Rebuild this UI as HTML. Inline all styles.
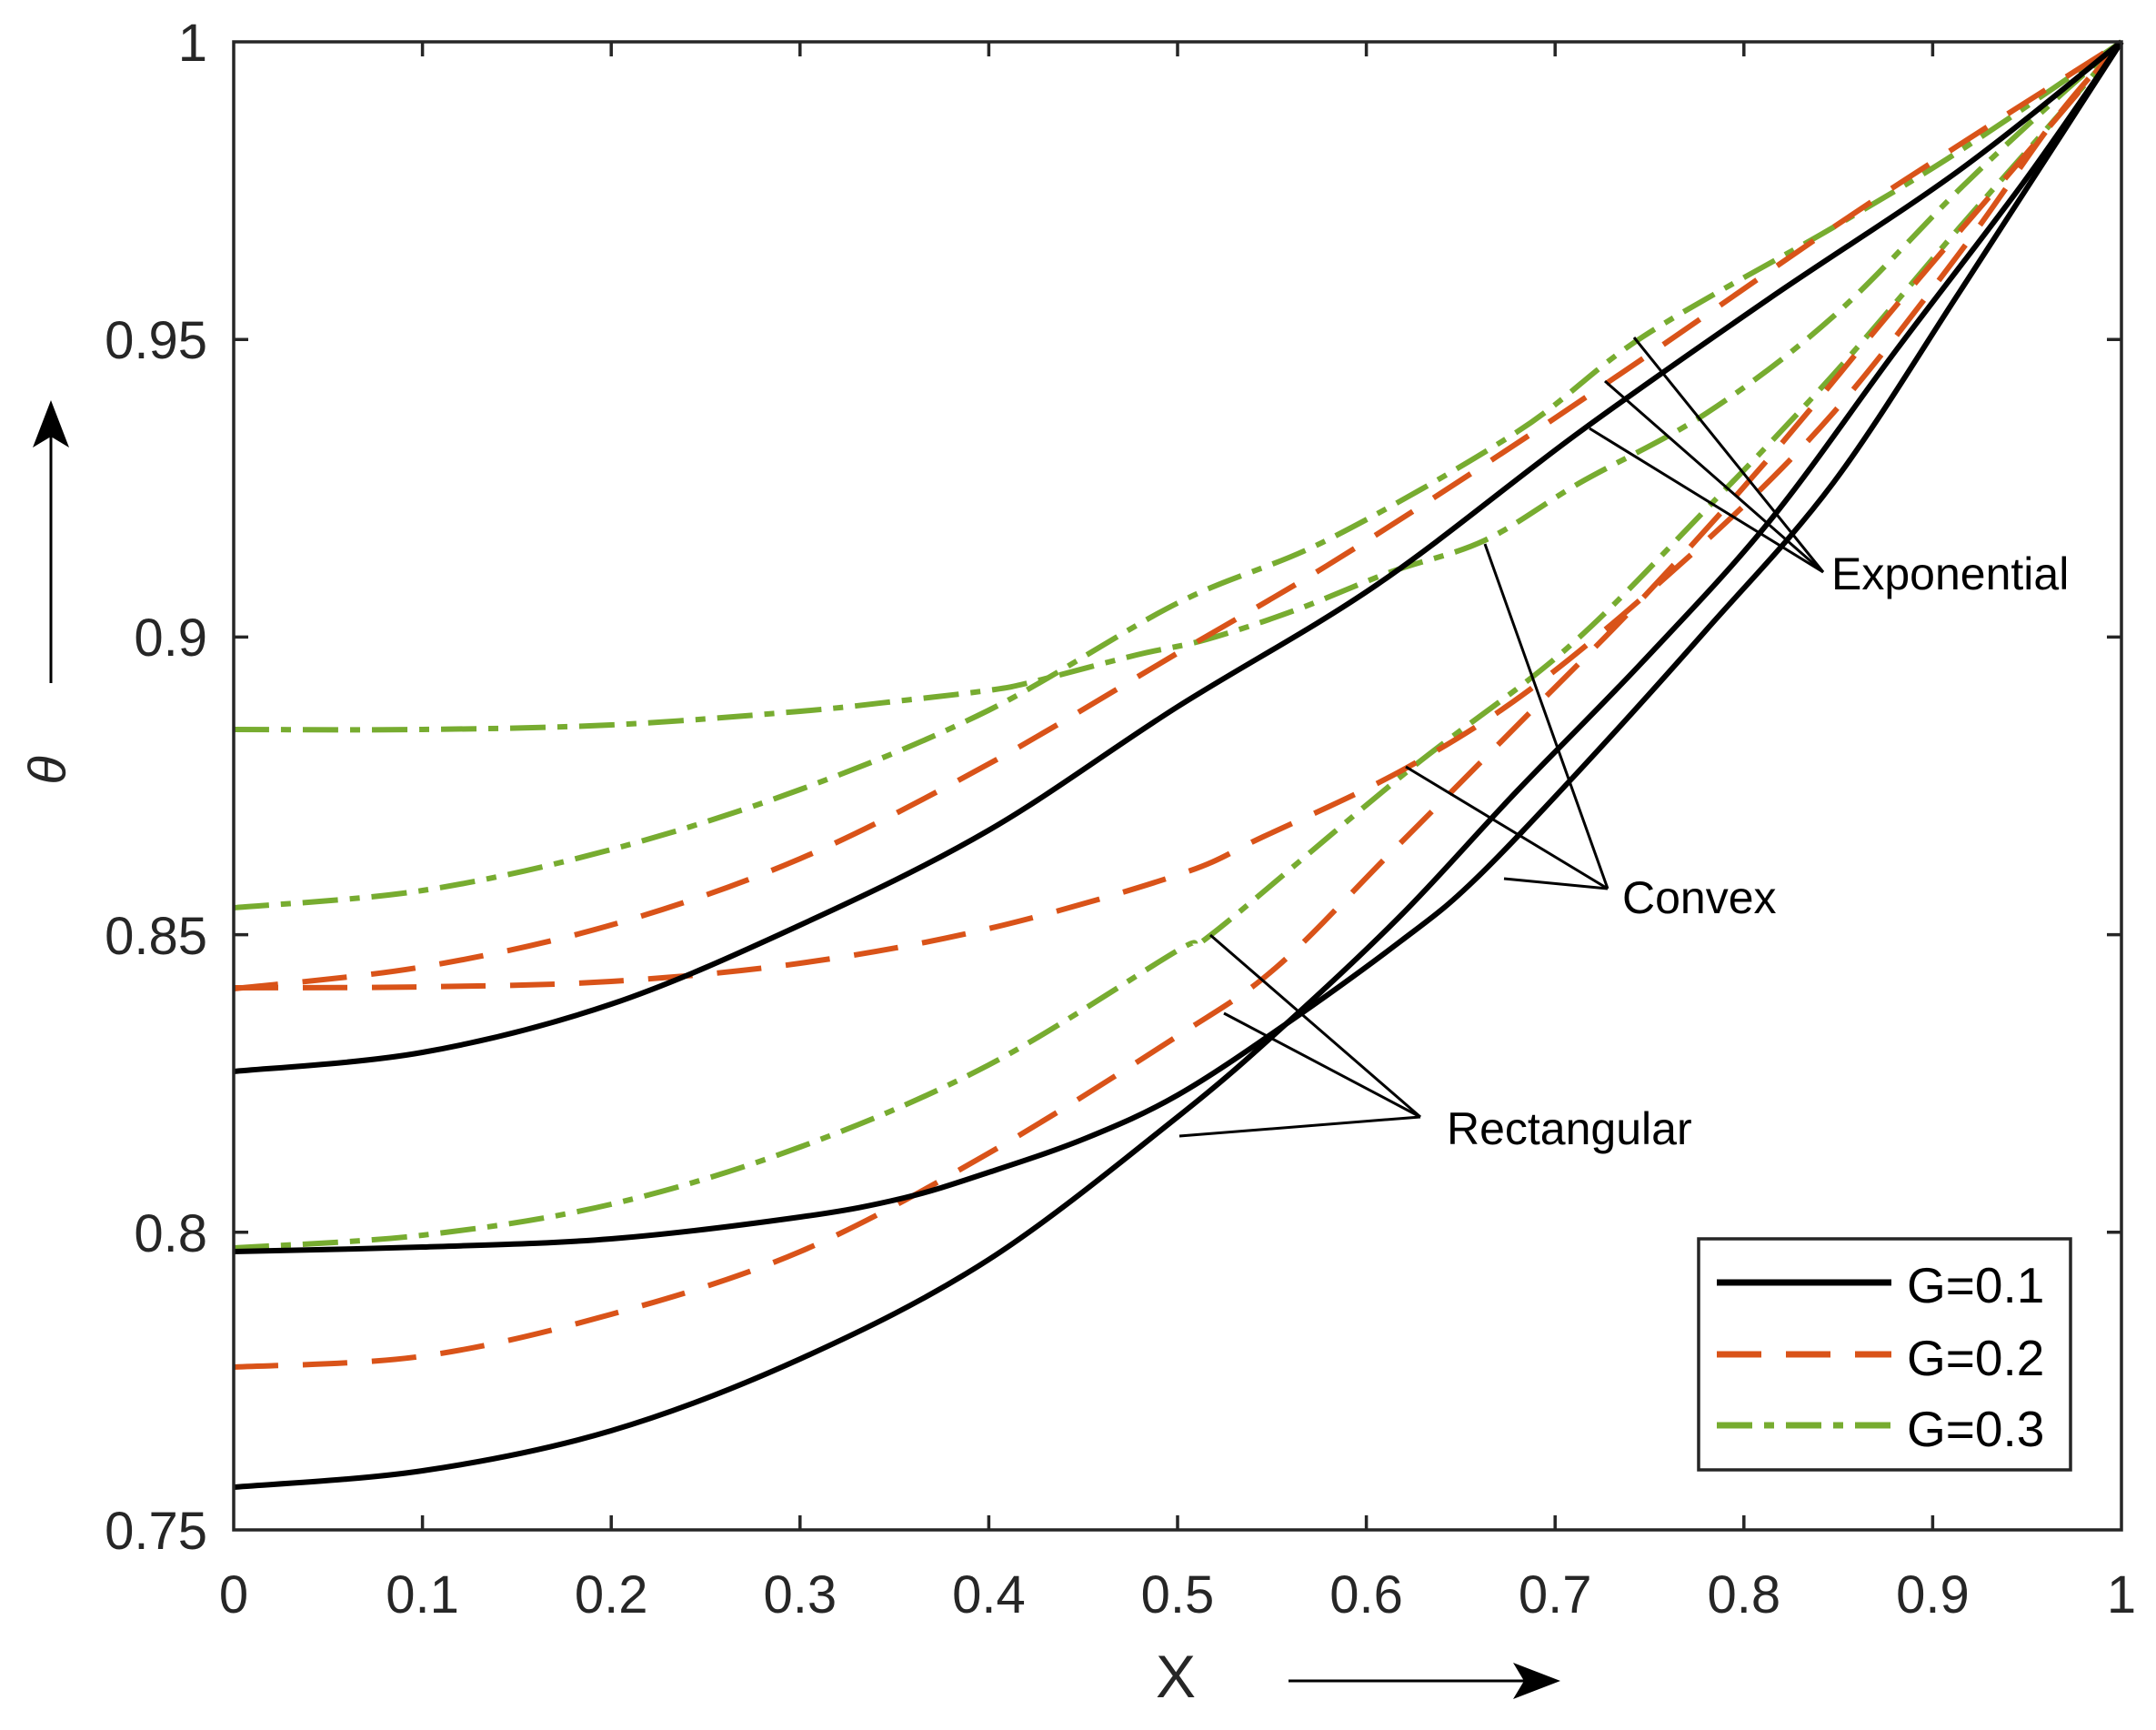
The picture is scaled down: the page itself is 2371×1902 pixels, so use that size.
<!DOCTYPE html>
<html><head><meta charset="utf-8"><style>
html,body{margin:0;padding:0;background:#fff;}
svg{display:block;}
text{font-family:"Liberation Sans",Arial,sans-serif;}
</style></head><body>
<svg id="chart" width="2371" height="1902" viewBox="0 0 2371 1902" xmlns="http://www.w3.org/2000/svg">
<rect width="2371" height="1902" fill="#fff"/>
<g fill="none" stroke-width="6" stroke-linejoin="round" stroke-linecap="butt">
<g stroke="#77AC30" stroke-dasharray="39,13,11,13">
<polyline class="c" points="257,998 464.6,979 672,934 880,868 1087,781 1295,663 1459,594 1668,475 1807,370 2016,250 2155,166 2333,46"/>
<polyline class="c" points="257,802 464.6,802 672,797 880,782 994,770 1087,759 1134,750 1250,720 1327,703 1424,671 1529,629 1633,594 1737,531 1877,454 2016,348 2155,208 2260,110 2333,46"/>
<polyline class="c" points="257,1372 464.6,1358 672,1324 880,1261 1087,1171 1295,1045 1334,1026 1549,847 1723,713 1877,559 2016,412 2155,250 2260,131 2333,46"/>
</g>
<g stroke="#D95319" stroke-dasharray="49,27">
<polyline class="c" points="257,1087 464.6,1063 672,1017 880,944 1087,840 1295,718 1459,622 1640,506 1807,394 2016,250 2155,159 2333,46"/>
<polyline class="c" points="257,1086 464.6,1085 672,1079 880,1059 1087,1021 1295,962 1389,920 1549,843 1696,748 1877,594 2016,454 2155,278 2260,131 2333,46"/>
<polyline class="c" points="257,1503 464.6,1491 672,1445 880,1376 1087,1268 1295,1139 1403,1064 1529,938 1668,798 1807,657 1946,503 2086,335 2225,173 2333,46"/>
</g>
<g stroke="#000">
<polyline class="c" points="257,1178 464.6,1157 672,1104 880,1017 1087,913 1295,777 1514,643 1737,475 1946,328 2155,187 2333,46"/>
<polyline class="c" points="257,1376 464.6,1371 672,1362 880,1338 994,1317 1087,1289 1195,1251 1295,1204 1414,1126 1540,1035 1619,970 1737,847 1877,692 2016,531 2155,321 2260,159 2333,46"/>
<polyline class="c" points="257,1635 464.6,1617 672,1573 880,1494 1087,1385 1295,1228 1414,1126 1542,1005 1668,870 1807,727 1946,573 2086,384 2225,201 2333,46"/>
</g>
</g>
<g stroke="#000" stroke-width="3" fill="none">
<line x1="1797" y1="371" x2="2005" y2="629"/>
<line x1="1765" y1="419" x2="2005" y2="629"/>
<line x1="1748" y1="471" x2="2005" y2="629"/>
<line x1="1633" y1="598" x2="1768" y2="977"/>
<line x1="1546" y1="843" x2="1768" y2="977"/>
<line x1="1654" y1="966" x2="1768" y2="977"/>
<line x1="1331" y1="1028" x2="1562" y2="1228"/>
<line x1="1346" y1="1114" x2="1562" y2="1228"/>
<line x1="1297" y1="1249" x2="1562" y2="1228"/>
</g>
<g font-size="50" fill="#000">
<text x="2014" y="648">Exponential</text>
<text x="1784" y="1004">Convex</text>
<text x="1591" y="1258">Rectangular</text>
</g>
<g stroke="#262626" stroke-width="3.5" fill="none">
<rect x="257" y="46" width="2076" height="1636"/>
<path d="M464.6,1682v-16M672.2,1682v-16M879.8,1682v-16M1087.4,1682v-16M1295,1682v-16M1502.6,1682v-16M1710.2,1682v-16M1917.8,1682v-16M2125.4,1682v-16
M464.6,46v16M672.2,46v16M879.8,46v16M1087.4,46v16M1295,46v16M1502.6,46v16M1710.2,46v16M1917.8,46v16M2125.4,46v16
M257,1354.8h16M257,1027.6h16M257,700.4h16M257,373.2h16
M2333,1354.8h-16M2333,1027.6h-16M2333,700.4h-16M2333,373.2h-16"/>
</g>
<g font-size="58" fill="#262626" text-anchor="middle">
<text x="257" y="1773">0</text>
<text x="464.6" y="1773">0.1</text>
<text x="672.2" y="1773">0.2</text>
<text x="879.8" y="1773">0.3</text>
<text x="1087.4" y="1773">0.4</text>
<text x="1295" y="1773">0.5</text>
<text x="1502.6" y="1773">0.6</text>
<text x="1710.2" y="1773">0.7</text>
<text x="1917.8" y="1773">0.8</text>
<text x="2125.4" y="1773">0.9</text>
<text x="2333" y="1773">1</text>
</g>
<g font-size="58" fill="#262626" text-anchor="end">
<text x="228" y="1703">0.75</text>
<text x="228" y="1376">0.8</text>
<text x="228" y="1049">0.85</text>
<text x="228" y="721">0.9</text>
<text x="228" y="394">0.95</text>
<text x="228" y="67">1</text>
</g>
<text x="1293" y="1866" font-size="66" fill="#262626" text-anchor="middle">X</text>
<line x1="1417" y1="1848" x2="1680" y2="1848" stroke="#000" stroke-width="3"/>
<polygon points="1716,1848 1664,1828 1676,1848 1664,1868" fill="#000"/>
<text transform="translate(72,847) rotate(-90)" font-size="58" font-style="italic" fill="#262626" text-anchor="middle" font-family="Liberation Serif, serif">θ</text>
<line x1="56" y1="751" x2="56" y2="475" stroke="#000" stroke-width="3"/>
<polygon points="56,440 36,492 56,480 76,492" fill="#000"/>
<rect x="1868" y="1362" width="409" height="254" fill="#fff" stroke="#262626" stroke-width="3.5"/>
<line x1="1888" y1="1410" x2="2080" y2="1410" stroke="#000" stroke-width="7"/>
<line x1="1888" y1="1489" x2="2080" y2="1489" stroke="#D95319" stroke-width="7" stroke-dasharray="49,27"/>
<line x1="1888" y1="1567" x2="2080" y2="1567" stroke="#77AC30" stroke-width="7" stroke-dasharray="39,13,11,13"/>
<g font-size="55" fill="#000">
<text x="2097" y="1432">G=0.1</text>
<text x="2097" y="1512">G=0.2</text>
<text x="2097" y="1590">G=0.3</text>
</g>
</svg>
<script>
(function(){
var NS="http://www.w3.org/2000/svg";
var pls=document.querySelectorAll("polyline.c");
for(var i=0;i<pls.length;i++){
  var pl=pls[i];
  var nums=pl.getAttribute("points").trim().split(/[\s,]+/).map(Number);
  var p=[];for(var k=0;k<nums.length;k+=2)p.push([nums[k],nums[k+1]]);
  var d="M"+p[0][0]+","+p[0][1];
  for(var k=0;k<p.length-1;k++){
    var p0=p[k>0?k-1:0],p1=p[k],p2=p[k+1],p3=p[k+2<p.length?k+2:p.length-1];
    var c1x=p1[0]+(p2[0]-p0[0])/6,c1y=p1[1]+(p2[1]-p0[1])/6;
    var c2x=p2[0]-(p3[0]-p1[0])/6,c2y=p2[1]-(p3[1]-p1[1])/6;
    d+="C"+c1x.toFixed(1)+","+c1y.toFixed(1)+" "+c2x.toFixed(1)+","+c2y.toFixed(1)+" "+p2[0]+","+p2[1];
  }
  var path=document.createElementNS(NS,"path");
  path.setAttribute("d",d);
  pl.parentNode.replaceChild(path,pl);
}
})();
</script>
</body></html>
